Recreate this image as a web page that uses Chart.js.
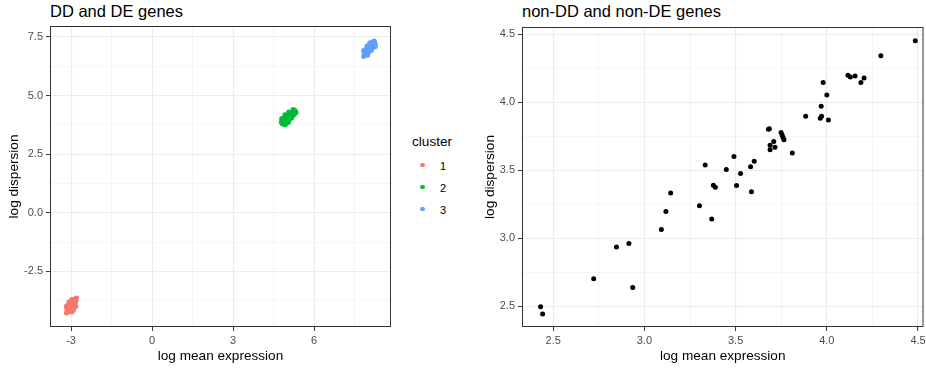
<!DOCTYPE html>
<html>
<head>
<meta charset="utf-8">
<script src="https://cdn.jsdelivr.net/npm/chart.js@4.4.1/dist/chart.umd.min.js"></script>
<style>
    body { margin: 0; background: #fff; font-family: "Liberation Sans", Arial, sans-serif; }
    #wrap { position: relative; width: 926px; height: 369px; overflow: hidden; }
    canvas { position: absolute; top: 0; }
    .titulo { position: absolute; top: 2.5px; font-size: 16.5px; line-height: 16.5px; color: #000; white-space: nowrap; }
    #leyenda { position: absolute; left: 0; top: 0; }
    .ley-titulo { position: absolute; left: 412px; top: 135px; font-size: 13.6px; line-height: 13.6px; color: #000; }
    .ley-punto { position: absolute; width: 4.6px; height: 4.6px; border-radius: 50%; }
    .ley-texto { position: absolute; left: 440px; font-size: 11px; line-height: 11px; color: #000; }
</style>
</head>
<body>
<div id="wrap">
    <div class="titulo" style="left:50px">DD and DE genes</div>
    <div class="titulo" style="left:522px">non-DD and non-DE genes</div>
    <canvas id="graficaDD" width="400" height="369" style="left:0"></canvas>
    <div id="leyenda"><div class="ley-titulo">cluster</div></div>
    <canvas id="graficaNoDD" width="446" height="369" style="left:480px"></canvas>
</div>
<script>
// simulated genes, log mean expression vs log dispersion
const clusterLabels = ['1', '2', '3'];

const cluster1Mean = [-3.17, -3.14, -3.15, -3.12, -3.10, -3.11, -3.07, -3.05, -3.08, -3.03, -3.01, -2.99, -3.02,
    -2.96, -2.94, -2.92, -2.97, -2.89, -2.86, -2.84, -2.90, -2.82, -2.80, -3.13, -3.06, -2.93,
    -3.14, -3.10, -3.05, -3.00, -2.97, -3.08, -3.00, -2.95, -2.90, -2.85,
    -2.91, -3.17, -2.82, -3.08, -2.96, -3.16];
const cluster1Disp = [-4.27, -4.20, -4.13, -4.24, -4.10, -4.03, -4.15, -4.05, -3.97, -3.99, -4.08, -3.90, -3.86,
    -3.95, -3.83, -3.90, -3.78, -3.80, -3.72, -3.66, -3.70, -3.76, -3.63, -4.17, -4.00, -3.86,
    -4.00, -3.92, -3.85, -3.76, -3.70, -4.20, -4.12, -4.02, -3.95, -3.86,
    -4.15, -3.97, -4.00, -3.80, -4.23, -4.06];

const cluster2Mean = [4.79, 4.82, 4.85, 4.83, 4.88, 4.90, 4.87, 4.93, 4.95, 4.92, 4.98, 5.00, 4.97, 5.03, 5.05, 5.02,
    5.08, 5.10, 5.07, 5.13, 5.15, 5.18, 5.20, 5.23, 5.26, 5.30, 5.33, 5.22, 5.28, 4.95, 5.00, 4.86,
    4.90, 4.98, 5.06, 5.14, 5.22, 4.82, 4.88, 4.96, 5.04, 5.12, 5.30, 4.95,
    4.93, 5.05, 5.17, 4.80, 4.92, 5.06, 5.25];
const cluster2Disp = [3.86, 3.80, 3.92, 3.97, 3.84, 3.79, 3.88, 3.95, 3.82, 4.02, 3.90, 4.00, 4.07, 3.93, 4.05, 4.12,
    4.00, 4.15, 4.08, 4.10, 4.20, 4.17, 4.30, 4.25, 4.35, 4.33, 4.28, 4.41, 4.38, 3.87, 3.83, 4.00,
    3.78, 3.84, 3.93, 4.03, 4.15, 3.95, 4.03, 4.12, 4.20, 4.28, 4.25, 4.08,
    3.76, 3.86, 4.05, 4.02, 4.18, 4.30, 4.18];

const cluster3Mean = [7.84, 7.87, 7.90, 7.86, 7.92, 7.95, 7.93, 7.98, 8.00, 7.97, 8.03, 8.05, 8.02, 8.08, 8.10, 8.07,
    8.13, 8.15, 8.12, 8.18, 8.20, 8.23, 8.25, 8.27, 8.17, 7.89,
    7.95, 8.02, 8.10, 8.18, 8.25, 7.85, 7.92, 8.00, 8.07, 8.13,
    7.98, 8.12, 8.26, 7.84, 7.96, 8.06];
const cluster3Disp = [6.67, 6.73, 6.78, 6.82, 6.87, 6.84, 6.93, 6.91, 6.97, 7.00, 7.02, 6.95, 7.07, 7.05, 7.12, 7.13,
    7.10, 7.20, 7.22, 7.18, 7.27, 7.33, 7.25, 7.15, 7.30, 6.90,
    6.75, 6.85, 6.95, 7.05, 7.15, 6.88, 6.98, 7.08, 7.18, 7.27,
    6.72, 6.92, 7.08, 6.92, 7.12, 7.25];

const otherMean = [2.431, 2.442, 2.722, 2.847, 2.915, 2.936, 3.093, 3.118, 3.144, 3.302, 3.369, 3.333, 3.378, 3.389,
    3.449, 3.491, 3.505, 3.527, 3.582, 3.587, 3.602, 3.680, 3.685, 3.689, 3.689, 3.709, 3.716, 3.749, 3.755, 3.760,
    3.765, 3.811, 3.884, 3.964, 3.971, 3.969, 3.980, 4.000, 4.009, 4.116, 4.129, 4.155, 4.187, 4.204, 4.296, 4.485];
const otherDisp = [2.495, 2.441, 2.701, 2.934, 2.961, 2.637, 3.064, 3.196, 3.333, 3.238, 3.140, 3.539, 3.390, 3.375,
    3.505, 3.600, 3.387, 3.475, 3.525, 3.341, 3.566, 3.801, 3.806, 3.684, 3.650, 3.711, 3.669, 3.777, 3.760, 3.740,
    3.725, 3.627, 3.897, 3.882, 3.897, 3.971, 4.145, 4.054, 3.870, 4.199, 4.186, 4.194, 4.145, 4.179, 4.343, 4.453];

// axis breaks (major get labels, minor only grid lines)
const ddMeanTicks = [-3, 0, 3, 6];
const ddMeanMinor = [-1.5, 1.5, 4.5, 7.5];
const ddDispTicks = [-2.5, 0, 2.5, 5, 7.5];
const ddDispMinor = [-3.75, -1.25, 1.25, 3.75, 6.25];
const otherTicks = [2.5, 3.0, 3.5, 4.0, 4.5];
const otherMinor = [2.75, 3.25, 3.75, 4.25];

const clusterColors = ['#F8766D', '#00BA38', '#619CFF'];

Chart.defaults.font.family = '"Liberation Sans", Arial, sans-serif';

const zip = (xs, ys) => xs.map((x, i) => ({ x: x, y: ys[i] }));

// panel border drawn on top of the points, like theme_bw
const bordePanel = {
    id: 'bordePanel',
    afterDatasetsDraw(chart) {
        const { ctx, chartArea: a } = chart;
        ctx.save();
        ctx.strokeStyle = '#333333';
        ctx.lineWidth = 1;
        ctx.strokeRect(a.left + 0.5, a.top + 0.5, a.right - a.left - 1, a.bottom - a.top - 1);
        ctx.restore();
    }
};

function eje(min, max, major, minor, fmt, titulo, tam, padTitulo) {
    const esMayor = v => major.includes(v);
    return {
        type: 'linear',
        min: min,
        max: max,
        afterBuildTicks: s => {
            s.ticks = major.concat(minor).sort((a, b) => a - b).map(v => ({ value: v }));
        },
        afterFit: s => {
            if (s.isHorizontal()) {
                s.height = tam;
                s.paddingLeft = 0;
                s.paddingRight = 0;
            } else {
                s.width = tam;
                s.paddingTop = 0;
                s.paddingBottom = 0;
            }
        },
        ticks: {
            autoSkip: false,
            maxRotation: 0,
            padding: 3,
            color: '#4D4D4D',
            font: { size: 11 },
            callback: v => esMayor(v) ? fmt(v) : ''
        },
        grid: {
            color: c => esMayor(c.tick.value) ? '#EBEBEB' : '#F2F2F2',
            lineWidth: c => esMayor(c.tick.value) ? 1.1 : 0.8,
            tickLength: 4,
            tickColor: c => esMayor(c.tick.value) ? '#333333' : 'rgba(0,0,0,0)',
            tickWidth: 1
        },
        border: { display: false },
        title: {
            display: true,
            text: titulo,
            color: '#000',
            font: { size: 13.6 },
            padding: padTitulo
        }
    };
}

function opciones(padTop, padRight, escalas) {
    return {
        responsive: false,
        animation: false,
        layout: { padding: { top: padTop, right: padRight, bottom: 0, left: 0 } },
        plugins: { legend: { display: false }, tooltip: { enabled: false } },
        elements: { point: { radius: 2.5, borderWidth: 0, hoverRadius: 2.5 } },
        scales: escalas
    };
}

new Chart(document.getElementById('graficaDD'), {
    type: 'scatter',
    data: {
        datasets: [
            { label: clusterLabels[0], data: zip(cluster1Mean, cluster1Disp), backgroundColor: clusterColors[0] },
            { label: clusterLabels[1], data: zip(cluster2Mean, cluster2Disp), backgroundColor: clusterColors[1] },
            { label: clusterLabels[2], data: zip(cluster3Mean, cluster3Disp), backgroundColor: clusterColors[2] }
        ]
    },
    options: opciones(26, 9, {
        x: eje(-3.78, 8.85, ddMeanTicks, ddMeanMinor, v => String(v), 'log mean expression', 42, { top: 0, bottom: 5 }),
        y: eje(-4.87, 7.97, ddDispTicks, ddDispMinor, v => v.toFixed(1), 'log dispersion', 50, { top: 6, bottom: 0 })
    }),
    plugins: [bordePanel]
});

new Chart(document.getElementById('graficaNoDD'), {
    type: 'scatter',
    data: {
        datasets: [
            { label: 'genes', data: zip(otherMean, otherDisp), backgroundColor: '#000000' }
        ]
    },
    options: opciones(27, 0, {
        x: eje(2.329, 4.53, otherTicks, otherMinor, v => v.toFixed(1), 'log mean expression', 42, { top: 0, bottom: 5 }),
        y: eje(2.346, 4.554, otherTicks, otherMinor, v => v.toFixed(1), 'log dispersion', 42, { top: 2.3, bottom: 0 })
    }),
    plugins: [bordePanel]
});

// cluster legend next to the first panel
const leyenda = document.getElementById('leyenda');
clusterLabels.forEach((lab, i) => {
    const yc = 165 + i * 22;
    const punto = document.createElement('div');
    punto.className = 'ley-punto';
    punto.style.left = (422.7 - 2.3) + 'px';
    punto.style.top = (yc - 2.3) + 'px';
    punto.style.background = clusterColors[i];
    leyenda.appendChild(punto);
    const texto = document.createElement('div');
    texto.className = 'ley-texto';
    texto.style.top = (yc + 5.5 - 9.3) + 'px';
    texto.textContent = lab;
    leyenda.appendChild(texto);
});
</script>
</body>
</html>
